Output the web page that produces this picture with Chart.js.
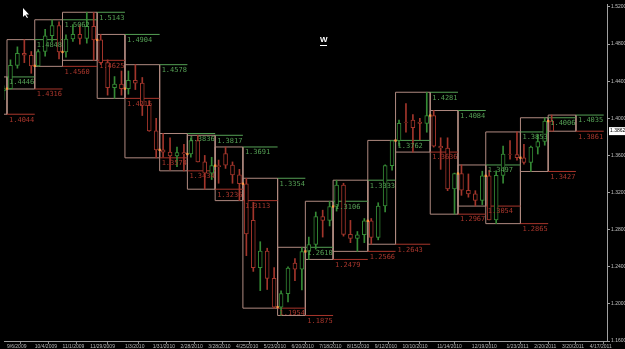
<!DOCTYPE html>
<html>
<head>
<meta charset="utf-8">
<script src="https://cdn.jsdelivr.net/npm/chart.js@4.4.1/dist/chart.umd.min.js"></script>
<style>
  html, body { margin: 0; padding: 0; background: #000; overflow: hidden; }
  canvas { display: block; }
</style>
</head>
<body>
<canvas id="chart" width="625" height="349"></canvas>
<script>
// weekly EUR/USD candles, first one is the week of 8/30/2009 (week -1)
const firstWeek = -1;
const opens = [
  1.4295, 1.4320, 1.4570, 1.4700, 1.4680, 1.4565, 1.4720, 1.4890, 1.5000, 1.4715,
  1.4855, 1.4905, 1.4860, 1.4990, 1.4845, 1.4600, 1.4330, 1.4370, 1.4320, 1.4410,
  1.4380, 1.4140, 1.3865, 1.3660, 1.3635, 1.3595, 1.3630, 1.3615, 1.3760, 1.3530,
  1.3410, 1.3490, 1.3620, 1.3495, 1.3390, 1.3295, 1.2900, 1.2390, 1.2570, 1.2275,
  1.1965, 1.2110, 1.2440, 1.2375, 1.2565, 1.2640, 1.2940, 1.2900, 1.3050, 1.3280,
  1.2750, 1.2705, 1.2745, 1.2895, 1.2715, 1.3055, 1.3490, 1.3760, 1.3960, 1.3980,
  1.3960, 1.3945, 1.4030, 1.3700, 1.3680, 1.3240, 1.3405, 1.3225, 1.3185, 1.3115,
  1.3380, 1.2905, 1.3385, 1.3615, 1.3610, 1.3575, 1.3525, 1.3690, 1.3750, 1.3970
];
const highs = [
  1.4350, 1.4630, 1.4770, 1.4848, 1.4720, 1.4740, 1.4960, 1.5062, 1.5040, 1.4900,
  1.5010, 1.5000, 1.5143, 1.5139, 1.4904, 1.4630, 1.4450, 1.4510, 1.4510, 1.4578,
  1.4440, 1.4190, 1.4000, 1.3836, 1.3790, 1.3690, 1.3720, 1.3790, 1.3817, 1.3600,
  1.3580, 1.3550, 1.3691, 1.3530, 1.3450, 1.3354, 1.3094, 1.2670, 1.2600, 1.2390,
  1.2140, 1.2400, 1.2487, 1.2610, 1.2720, 1.2990, 1.3010, 1.3106, 1.3333, 1.3300,
  1.2900, 1.2780, 1.2920, 1.2920, 1.3090, 1.3500, 1.3762, 1.3980, 1.4160, 1.4040,
  1.4000, 1.4281, 1.4084, 1.3790, 1.3790, 1.3410, 1.3497, 1.3400, 1.3220, 1.3430,
  1.3440, 1.3435, 1.3700, 1.3760, 1.3853, 1.3720, 1.3700, 1.3825, 1.4006, 1.4035
];
const lows = [
  1.4200, 1.4316, 1.4540, 1.4600, 1.4485, 1.4560, 1.4670, 1.4830, 1.4640, 1.4660,
  1.4830, 1.4800, 1.4810, 1.4625, 1.4580, 1.4250, 1.4215, 1.4250, 1.4260, 1.4310,
  1.4030, 1.3860, 1.3574, 1.3580, 1.3445, 1.3480, 1.3434, 1.3580, 1.3530, 1.3236,
  1.3340, 1.3300, 1.3460, 1.3300, 1.3113, 1.2520, 1.2350, 1.2143, 1.2155, 1.1954,
  1.1875, 1.2020, 1.2250, 1.2150, 1.2479, 1.2590, 1.2720, 1.2840, 1.3000, 1.2730,
  1.2660, 1.2566, 1.2660, 1.2643, 1.2690, 1.2990, 1.3440, 1.3700, 1.3850, 1.3636,
  1.3770, 1.3850, 1.3690, 1.3450, 1.3220, 1.2967, 1.3170, 1.3150, 1.3054, 1.3070,
  1.2905, 1.2865, 1.3300, 1.3560, 1.3550, 1.3505, 1.3427, 1.3615, 1.3710, 1.3861
];
const closes = [
  1.4320, 1.4570, 1.4700, 1.4680, 1.4565, 1.4720, 1.4890, 1.5000, 1.4715, 1.4855,
  1.4905, 1.4860, 1.4990, 1.4845, 1.4600, 1.4330, 1.4370, 1.4320, 1.4410, 1.4380,
  1.4140, 1.3865, 1.3660, 1.3635, 1.3595, 1.3630, 1.3615, 1.3760, 1.3530, 1.3410,
  1.3490, 1.3480, 1.3495, 1.3390, 1.3295, 1.2755, 1.2390, 1.2570, 1.2275, 1.1965,
  1.2110, 1.2385, 1.2375, 1.2565, 1.2640, 1.2940, 1.2900, 1.3050, 1.3280, 1.2750,
  1.2705, 1.2745, 1.2895, 1.2715, 1.3055, 1.3490, 1.3760, 1.3945, 1.3955, 1.3900,
  1.3945, 1.4030, 1.3700, 1.3680, 1.3240, 1.3405, 1.3225, 1.3185, 1.3115, 1.3380,
  1.2905, 1.3385, 1.3615, 1.3610, 1.3575, 1.3525, 1.3690, 1.3750, 1.3970, 1.3862
];

// monthly ranges, Aug 2009 .. Mar 2011 (week index where each month starts, last = end of Apr 2011)
const monthStarts = [-5, 0, 4, 8, 13, 17, 22, 26, 30, 34, 39, 43, 47, 52, 56, 61, 65, 69, 74, 78, 82, 86];
const monthHighs = [1.4446, 1.4848, 1.5062, 1.5143, 1.4904, 1.4578, 1.3836, 1.3817, 1.3691, 1.3354,
                    1.2610, 1.3106, 1.3333, 1.3762, 1.4281, 1.4084, 1.3497, 1.3853, 1.4006, 1.4035];
const monthLows  = [1.4044, 1.4316, 1.4560, 1.4625, 1.4215, 1.3574, 1.3434, 1.3236, 1.3113, 1.1954,
                    1.1875, 1.2479, 1.2566, 1.2643, 1.3636, 1.2967, 1.3054, 1.2865, 1.3427, 1.3861];

// axis ticks
const xTickWeeks = [0, 4, 8, 12, 17, 21, 25, 29, 33, 37, 41, 45, 49, 53, 57, 62, 67, 72, 76, 80, 84];
const xTickLabels = ['9/6/2009', '10/4/2009', '11/1/2009', '11/29/2009', '1/3/2010', '1/31/2010',
  '2/28/2010', '3/28/2010', '4/25/2010', '5/23/2010', '6/20/2010', '7/18/2010', '8/15/2010',
  '9/12/2010', '10/10/2010', '11/14/2010', '12/19/2010', '1/23/2011', '2/20/2011', '3/20/2011', '4/17/2011'];
const yTicks = [1.16, 1.20, 1.24, 1.28, 1.32, 1.36, 1.40, 1.44, 1.48, 1.52];
const lastPrice = 1.3862;

const UP = '#358a35';
const DOWN = '#a2352b';
const BOX = '#b08a80';
const HI_TXT = '#55a055';
const LO_TXT = '#a8362c';
const DOT = '#ff9a48';

const candleColor = (i) => (closes[i] >= opens[i] ? UP : DOWN);

const wickData = lows.map((l, i) => ({ x: firstWeek + i + 0.5, y: [l, highs[i]] }));
const bodyData = opens.map((o, i) => ({ x: firstWeek + i + 0.5, y: [o, closes[i]] }));

// month boxes as one broken line
const boxData = [];
for (let i = 0; i < monthHighs.length; i++) {
  const s = monthStarts[i], e = monthStarts[i + 1];
  boxData.push({ x: s, y: monthLows[i] }, { x: s, y: monthHighs[i] }, { x: e, y: monthHighs[i] },
               { x: e, y: monthLows[i] }, { x: s, y: monthLows[i] }, { x: e, y: null });
}

// previous month high / low carried through the next month
const hiLevels = [], loLevels = [];
for (let i = 1; i < monthStarts.length - 1; i++) {
  const s = monthStarts[i], e = monthStarts[i + 1];
  hiLevels.push({ x: s, y: monthHighs[i - 1] }, { x: e, y: monthHighs[i - 1] }, { x: e, y: null });
  loLevels.push({ x: s, y: monthLows[i - 1] }, { x: e, y: monthLows[i - 1] }, { x: e, y: null });
}

// month open markers
const dotData = [];
for (let i = 1; i < monthHighs.length; i++) {
  const w = monthStarts[i];
  dotData.push({ x: w, y: opens[w - firstWeek] });
}

const textPlugin = {
  id: 'levelText',
  afterDatasetsDraw(chart) {
    const { ctx, scales: { x, y }, chartArea } = chart;
    ctx.save();
    ctx.beginPath();
    ctx.rect(chartArea.left, chartArea.top, chartArea.right - chartArea.left, chartArea.bottom - chartArea.top);
    ctx.clip();
    ctx.font = '7px "DejaVu Sans Mono"';
    ctx.textBaseline = 'top';
    ctx.textAlign = 'left';
    for (let i = 1; i < monthStarts.length - 1; i++) {
      const px = x.getPixelForValue(monthStarts[i]) + 2;
      ctx.fillStyle = HI_TXT;
      ctx.fillText(monthHighs[i - 1].toFixed(4), px, y.getPixelForValue(monthHighs[i - 1]) + 2);
      ctx.fillStyle = LO_TXT;
      ctx.fillText(monthLows[i - 1].toFixed(4), px, y.getPixelForValue(monthLows[i - 1]) + 2);
    }

    // timeframe mark
    ctx.fillStyle = '#ffffff';
    ctx.font = 'bold 8px "Liberation Sans"';
    ctx.fillText('W', 320, 36);
    ctx.fillRect(320, 45, 7, 1);

    // mouse pointer
    ctx.beginPath();
    ctx.moveTo(23, 8);
    ctx.lineTo(23, 17);
    ctx.lineTo(25, 15);
    ctx.lineTo(27, 18);
    ctx.lineTo(28, 17.5);
    ctx.lineTo(26, 14.5);
    ctx.lineTo(29, 14.5);
    ctx.closePath();
    ctx.fillStyle = '#ffffff';
    ctx.fill();
    ctx.restore();

    // last price tag on the axis
    ctx.save();
    const py = y.getPixelForValue(lastPrice);
    ctx.fillStyle = '#ffffff';
    ctx.fillRect(chartArea.right + 2, py - 4, 16, 8);
    ctx.fillStyle = '#000000';
    ctx.font = '5px "Liberation Sans"';
    ctx.textBaseline = 'middle';
    ctx.fillText(lastPrice.toFixed(4), chartArea.right + 3, py);
    ctx.restore();
  }
};

new Chart(document.getElementById('chart'), {
  type: 'bar',
  data: {
    datasets: [
      {
        type: 'line', data: boxData, borderColor: BOX, borderWidth: 1, pointRadius: 0,
        spanGaps: false, tension: 0, fill: false, order: 5
      },
      {
        type: 'line', data: hiLevels, borderColor: HI_TXT, borderWidth: 1, pointRadius: 0,
        spanGaps: false, tension: 0, fill: false, order: 4
      },
      {
        type: 'line', data: loLevels, borderColor: LO_TXT, borderWidth: 1, pointRadius: 0,
        spanGaps: false, tension: 0, fill: false, order: 4
      },
      {
        data: wickData, barThickness: 1, grouped: false, borderWidth: 0,
        backgroundColor: (c) => candleColor(c.dataIndex), order: 3
      },
      {
        data: bodyData, barThickness: 4, grouped: false, borderWidth: 1, borderSkipped: false,
        backgroundColor: '#000000', borderColor: (c) => candleColor(c.dataIndex), order: 2
      },
      {
        type: 'scatter', data: dotData, pointStyle: 'rect', pointRadius: 1.6,
        backgroundColor: DOT, borderWidth: 0, order: 1
      }
    ]
  },
  options: {
    responsive: false,
    animation: false,
    devicePixelRatio: 1,
    layout: { padding: 0 },
    plugins: { legend: { display: false }, tooltip: { enabled: false } },
    scales: {
      x: {
        type: 'linear',
        offset: false,
        min: -3 / 6.95,
        max: 604 / 6.95 - 3 / 6.95,
        afterBuildTicks: (s) => { s.ticks = xTickWeeks.map((v) => ({ value: v })); },
        afterFit: (s) => { s.height = 8; },
        ticks: {
          autoSkip: false,
          maxRotation: 0,
          align: 'start',
          padding: 0,
          color: '#b8b8b8',
          font: { size: 5, family: 'Liberation Sans' },
          callback: (v) => xTickLabels[xTickWeeks.indexOf(v)] || ''
        },
        grid: { drawOnChartArea: false, drawTicks: true, tickLength: 3, color: '#8a8a8a' },
        border: { color: '#a0a0a0' }
      },
      y: {
        position: 'right',
        min: 1.16,
        max: 1.5232,
        afterBuildTicks: (s) => { s.ticks = yTicks.map((v) => ({ value: v })); },
        afterFit: (s) => { s.width = 18; },
        ticks: {
          padding: 1,
          color: '#c0c0c0',
          font: { size: 5, family: 'Liberation Sans' },
          callback: (v) => v.toFixed(4)
        },
        grid: { drawOnChartArea: false, drawTicks: true, tickLength: 3, color: '#a0a0a0' },
        border: { color: '#a0a0a0' }
      }
    }
  },
  plugins: [textPlugin]
});
</script>
</body>
</html>
